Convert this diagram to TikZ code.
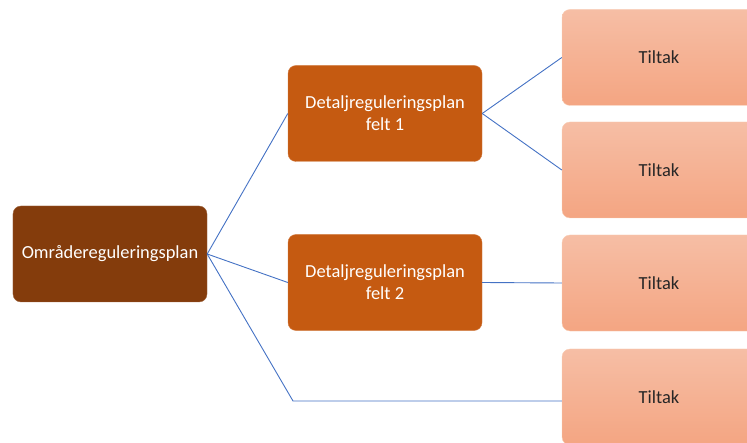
\documentclass[tikz,border=0pt]{standalone}
\usepackage{fontspec}
\setmainfont{Carlito}
\definecolor{rootc}{RGB}{132,60,12}
\definecolor{detc}{RGB}{197,90,17}
\definecolor{tiltop}{RGB}{246,190,165}
\definecolor{tilbot}{RGB}{244,165,130}
\definecolor{tilborder}{RGB}{248,205,180}
\definecolor{linec}{RGB}{68,114,196}
\begin{document}
\begin{tikzpicture}[x=1bp,y=-1bp,
  box/.style={rounded corners=8bp,minimum width=194bp,minimum height=96bp,inner sep=0pt,align=center,font=\fontsize{18.5}{22}\selectfont},
  rootbox/.style={box,fill=rootc,draw=rootc!80!white,text=white},
  detbox/.style={box,fill=detc,draw=detc!80!white,text=white},
  tilbox/.style={box,top color=tiltop,bottom color=tilbot,draw=tilborder,text=black!85},
  conn/.style={draw=linec,line width=0.9bp}]
\useasboundingbox (0,0) rectangle (747,443);
\clip (0,0) rectangle (747,443);
\node[rootbox] (root) at (110,254) {Områdereguleringsplan};
\node[detbox] (d1) at (385,113.5) {Detaljreguleringsplan\\felt 1};
\node[detbox] (d2) at (385,282.5) {Detaljreguleringsplan\\felt 2};
\node[tilbox] (t1) at (659,57.5) {Tiltak};
\node[tilbox] (t2) at (659,170) {Tiltak};
\node[tilbox] (t3) at (659,283) {Tiltak};
\node[tilbox] (t4) at (659,397) {Tiltak};
\coordinate (bend) at (293,401);
\draw[conn] (root.east) -- (d1.west);
\draw[conn] (root.east) -- (d2.west);
\draw[conn] (root.east) -- (bend) -- (t4.west |- bend);
\draw[conn] (d1.east) -- (t1.west);
\draw[conn] (d1.east) -- (t2.west);
\draw[conn] (d2.east) -- (t3.west);
\end{tikzpicture}
\end{document}
